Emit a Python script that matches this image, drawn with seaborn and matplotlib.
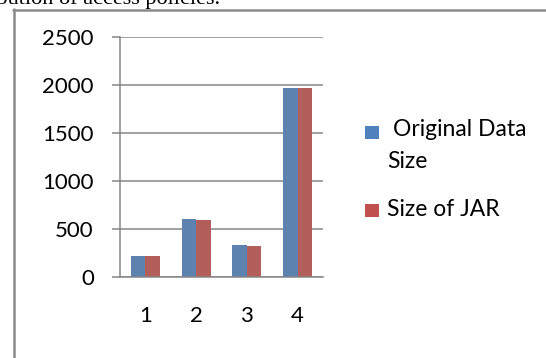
import matplotlib
matplotlib.use("Agg")
import matplotlib.pyplot as plt
from matplotlib.lines import Line2D
from matplotlib.patches import Rectangle
import pandas as pd
import seaborn as sns

# Data
runs = ["1", "2", "3", "4"]
original_size = [212, 603, 326, 1965]
jar_size = [212, 592, 319, 1970]
series_names = ["Original Data\nSize", "Size of JAR"]
series_colors = ["#4F81BD", "#C0504D"]
y_ticks = [0, 500, 1000, 1500, 2000, 2500]

df = pd.DataFrame({
    "Run": runs * 2,
    "Size": original_size + jar_size,
    "Series": [series_names[0]] * len(runs) + [series_names[1]] * len(runs),
})

sns.set_theme(style="white")
plt.rcParams["font.family"] = ["Lato", "DejaVu Sans"]

W, H = 546, 358
fig = plt.figure(figsize=(W / 100, H / 100), dpi=100)
fig.patch.set_facecolor("white")

grey = "#868686"
ax = fig.add_axes([120 / W, (H - 276.7) / H, 203 / W, 239.7 / H])
sns.barplot(data=df, x="Run", y="Size", hue="Series", order=runs,
            hue_order=series_names, palette=series_colors, width=0.57,
            gap=0, linewidth=0, legend=False, ax=ax)

ax.set_xlim(-0.5, len(runs) - 0.5)
ax.set_ylim(0, 2500)
ax.set_yticks(y_ticks)
ax.set_xlabel("")
ax.set_ylabel("")
ax.yaxis.grid(True, color=grey, linewidth=1.1)
ax.set_axisbelow(True)
for side in ["top", "right"]:
    ax.spines[side].set_visible(False)
for side in ["left", "bottom"]:
    ax.spines[side].set_color(grey)
    ax.spines[side].set_linewidth(1.1)

ax.set_xticks(range(len(runs)))
ax.set_xticklabels(runs)
ax.set_xticks([i - 0.5 for i in range(len(runs) + 1)], minor=True)
ax.tick_params(axis="x", which="major", length=0, pad=21, labelsize=16, labelcolor="black")
ax.tick_params(axis="x", which="minor", length=5.8, width=1.1, color=grey, direction="out")
ax.tick_params(axis="y", which="major", left=True, length=5.8, width=1.1, color=grey,
               pad=13, labelsize=16, labelcolor="black")

# Legend entries: swatch aligned with the first text line
legend_rows = [(126, 130, 387), (203.5, 209.5, 387)]
for (sq_top, text_y, text_x), name, color in zip(legend_rows, series_names, series_colors):
    fig.add_artist(Rectangle((365 / W, 1 - (sq_top + 13) / H), 14 / W, 13 / H,
                             transform=fig.transFigure, facecolor=color, edgecolor="none"))
    first, *rest = name.split("\n")
    fig.text(text_x / W + (6 / W if rest else 0), 1 - text_y / H, first, ha="left",
             va="center", fontsize=16.5, color="black")
    for k, line in enumerate(rest):
        fig.text(text_x / W, 1 - (text_y + 32 * (k + 1)) / H, line, ha="left",
                 va="center", fontsize=16.5, color="black")

# Surrounding frame and the line of body text above it
fig.add_artist(Line2D([12.5 / W, 1], [1 - 9.5 / H] * 2, transform=fig.transFigure,
                      color="#8a8a8a", linewidth=1.8))
fig.add_artist(Line2D([13.5 / W] * 2, [0, 1 - 8.5 / H], transform=fig.transFigure,
                      color="#8a8a8a", linewidth=1.8))
fig.text(220 / W, 1 - 4 / H, "distribution of access policies.", ha="right", va="baseline",
         fontsize=16, family="Liberation Serif", color="black")

fig.savefig("out.png", dpi=100, facecolor="white")
